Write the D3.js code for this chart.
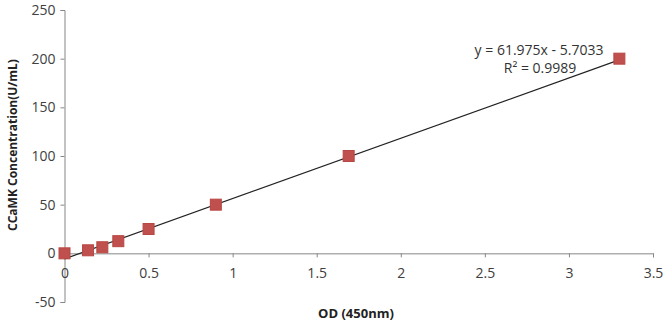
<!DOCTYPE html>
<html>
<head>
<meta charset="utf-8">
<script src="https://cdn.jsdelivr.net/npm/d3@7"></script>
<style>
  body { margin: 0; background: #fff; }
  text { font-family: "Open Sans", "Liberation Sans", sans-serif; }
</style>
</head>
<body>
<div class="canvas"></div>
<script>
// data
const odValues = [0, 0.14, 0.225, 0.32, 0.5, 0.9, 1.69, 3.3];
const concValues = [0, 3.125, 6.25, 12.5, 25, 50, 100, 200];
const xTicks = [0, 0.5, 1, 1.5, 2, 2.5, 3, 3.5];
const yTicks = [-50, 0, 50, 100, 150, 200, 250];
const slope = 61.975, intercept = -5.7033;

const svg = d3.select('.canvas')
  .append('svg')
    .attr('width', 664)
    .attr('height', 323);

// scales
const x = d3.scaleLinear().domain([0, 3.5]).range([64.5, 653]);
const y = d3.scaleLinear().domain([-50, 250]).range([302, 10]);

const axisColor = '#868686';

// y axis at x = 0 (hyphen minus like the original)
const yAxis = d3.axisLeft(y).tickValues(yTicks).tickSize(4).tickPadding(5)
  .tickFormat(d => String(d));
const yAxisGroup = svg.append('g')
  .attr('transform', `translate(${x(0)}, 0)`)
  .call(yAxis);

// x axis crossing at y = 0, labels pushed down
const xAxis = d3.axisBottom(x).tickValues(xTicks).tickSize(4).tickPadding(11)
  .tickFormat(d => String(d));
const xAxisGroup = svg.append('g')
  .attr('transform', `translate(0, ${y(0)})`)
  .call(xAxis);

[xAxisGroup, yAxisGroup].forEach(g => {
  g.select('.domain').attr('stroke', axisColor);
  g.selectAll('.tick line').attr('stroke', axisColor);
  g.selectAll('.tick text').attr('fill', '#404040').attr('font-size', 14);
});

// trend line
svg.append('line')
  .attr('x1', x(0)).attr('y1', y(intercept))
  .attr('x2', x(3.32)).attr('y2', y(slope * 3.32 + intercept))
  .attr('stroke', '#222')
  .attr('stroke-width', 1.2);

// markers
const size = 11;
svg.selectAll('rect.pt')
  .data(odValues)
  .enter()
  .append('rect')
    .attr('class', 'pt')
    .attr('x', (d, i) => x(d) - size / 2)
    .attr('y', (d, i) => y(concValues[i]) - size / 2)
    .attr('width', size)
    .attr('height', size)
    .attr('fill', '#C0504D')
    .attr('stroke', '#B84643')
    .attr('stroke-width', 1);

// equation
svg.append('text')
  .attr('x', 539).attr('y', 55)
  .attr('text-anchor', 'middle')
  .attr('font-size', 14)
  .attr('fill', '#333')
  .text('y = 61.975x - 5.7033');
svg.append('text')
  .attr('x', 540).attr('y', 73)
  .attr('text-anchor', 'middle')
  .attr('font-size', 14)
  .attr('fill', '#333')
  .text('R² = 0.9989');

// axis titles
svg.append('text')
  .attr('x', 356).attr('y', 318)
  .attr('text-anchor', 'middle')
  .attr('font-size', 13)
  .attr('font-weight', 'bold')
  .attr('fill', '#222')
  .text('OD (450nm)');
svg.append('text')
  .attr('transform', 'translate(17, 145) rotate(-90)')
  .attr('text-anchor', 'middle')
  .attr('font-size', 12)
  .attr('font-weight', 'bold')
  .attr('fill', '#222')
  .text('CCaMK Concentration(U/mL)');
</script>
</body>
</html>
